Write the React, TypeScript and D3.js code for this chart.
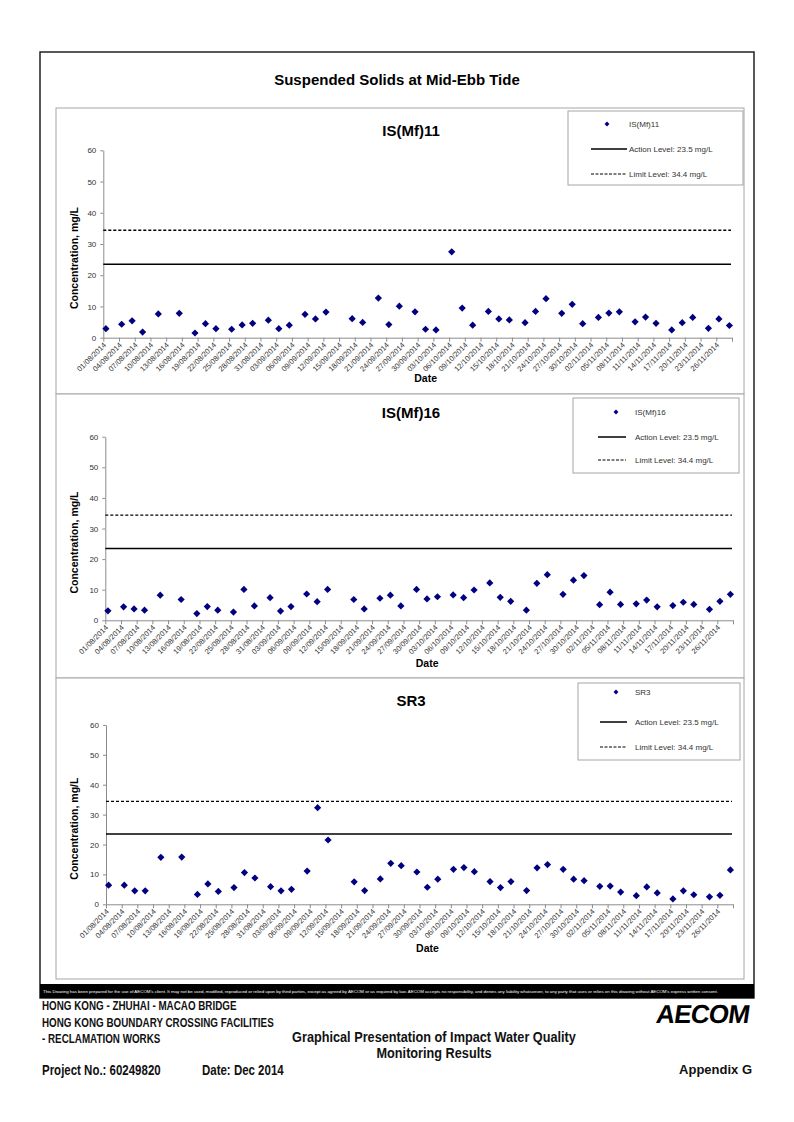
import { useRef, useEffect } from 'react';
import * as d3 from 'd3';

// sampling dates (Mon / Wed / Fri schedule)
const sampleDates = [
  '01/08/2014', '04/08/2014', '06/08/2014', '08/08/2014', '11/08/2014', '15/08/2014',
  '18/08/2014', '20/08/2014', '22/08/2014', '25/08/2014', '27/08/2014', '29/08/2014',
  '01/09/2014', '03/09/2014', '05/09/2014', '08/09/2014', '10/09/2014', '12/09/2014',
  '17/09/2014', '19/09/2014', '22/09/2014', '24/09/2014', '26/09/2014', '29/09/2014',
  '01/10/2014', '03/10/2014', '06/10/2014', '08/10/2014', '10/10/2014', '13/10/2014',
  '15/10/2014', '17/10/2014', '20/10/2014', '22/10/2014', '24/10/2014', '27/10/2014',
  '29/10/2014', '31/10/2014', '03/11/2014', '05/11/2014', '07/11/2014', '10/11/2014',
  '12/11/2014', '14/11/2014', '17/11/2014', '19/11/2014', '21/11/2014', '24/11/2014',
  '26/11/2014', '28/11/2014',
];

const is11Values = [
  2.9, 4.3, 5.4, 1.8, 7.6, 7.8, 1.5, 4.5, 2.9, 2.7, 4.1, 4.6,
  5.6, 2.9, 4.0, 7.5, 6.0, 8.2, 6.1, 4.9, 12.7, 4.2, 10.1, 8.3,
  2.7, 2.5, 27.5, 9.5, 4.0, 8.4, 6.0, 5.7, 4.8, 8.4, 12.5, 7.8, 10.7, 4.5,
  6.5, 7.9, 8.3, 5.1, 6.6, 4.6, 2.5, 4.8, 6.5, 3.0, 6.0, 3.9,
];

const is16Values = [
  3.1, 4.4, 3.7, 3.3, 8.2, 6.8, 2.2, 4.5, 3.3, 2.7, 10.1, 4.7,
  7.4, 3.0, 4.5, 8.6, 6.1, 10.1, 6.8, 3.7, 7.2, 8.2, 4.7, 10.1,
  7.0, 7.7, 8.3, 7.4, 9.9, 12.2, 7.5, 6.2, 3.3, 12.1, 14.9, 8.5, 13.1, 14.6,
  5.1, 9.2, 5.2, 5.4, 6.6, 4.4, 4.8, 5.9, 5.2, 3.6, 6.2, 8.5,
];

const sr3Values = [
  6.4, 6.4, 4.5, 4.5, 15.7, 15.8, 3.3, 6.8, 4.3, 5.6, 10.6, 8.8,
  5.9, 4.5, 5.0, 11.1, 32.3, 21.5, 7.5, 4.6, 8.5, 13.7, 12.9, 10.8,
  5.7, 8.4, 11.7, 12.3, 10.9, 7.6, 5.6, 7.6, 4.6, 12.2, 13.3, 11.7, 8.4, 7.9,
  6.0, 6.1, 4.1, 2.9, 5.8, 3.8, 1.8, 4.5, 3.2, 2.5, 3.0, 11.5,
];

const yTicks = [0, 10, 20, 30, 40, 50, 60];
const axisStart = '01/08/2014';
const axisEnd = '29/11/2014';
const tickStepDays = 3;
const actionLevel = 23.5;
const limitLevel = 34.4;
const actionLabel = 'Action Level: 23.5 mg/L';
const limitLabel = 'Limit Level: 34.4 mg/L';

const FONT = "'Liberation Sans', Arial, sans-serif";
const NAVY = '#000080';
const GRID = '#a6a6a6';

const panels = [
  {
    name: 'IS(Mf)11', values: is11Values,
    box: [56, 108, 744, 394], plot: [103.3, 150.3, 732, 337.7], titleY: 136, dateY: 382,
    legend: { box: [568, 111, 743, 185], dotX: 607, lineX: [591, 627], textX: 629, rows: [124, 149, 174] },
  },
  {
    name: 'IS(Mf)16', values: is16Values,
    box: [56, 394, 744, 678], plot: [105.3, 436.7, 733, 620.3], titleY: 418, dateY: 667,
    legend: { box: [573, 398, 739, 473], dotX: 616, lineX: [598, 626], textX: 635, rows: [412, 437, 460] },
  },
  {
    name: 'SR3', values: sr3Values,
    box: [56, 678, 744, 979], plot: [106, 724.9, 733, 904.3], titleY: 706, dateY: 952,
    legend: { box: [578, 683, 740, 760], dotX: 616, lineX: [600, 627], textX: 635, rows: [692, 722, 747] },
  },
];

const disclaimer =
  "This Drawing has been prepared for the use of AECOM's client. It may not be used, modified, reproduced or relied upon by third parties, except as agreed by AECOM or as required by law. AECOM accepts no responsibility, and denies any liability whatsoever, to any party that uses or relies on this drawing without AECOM's express written consent.";

type Panel = typeof panels[0];

function drawPanel(g: d3.Selection<SVGGElement, unknown, null, undefined>, p: Panel) {
  const parse = d3.timeParse('%d/%m/%Y');
  const fmt = d3.timeFormat('%d/%m/%Y');
  const start = parse(axisStart) as Date;
  const end = parse(axisEnd) as Date;
  const dates = sampleDates.map((s) => parse(s) as Date);

  const [bx0, by0, bx1, by1] = p.box;
  g.append('rect')
    .attr('x', bx0).attr('y', by0)
    .attr('width', bx1 - bx0).attr('height', by1 - by0)
    .attr('fill', '#fff').attr('stroke', GRID);

  const [l, t, r, b] = p.plot;
  const x = d3.scaleTime().domain([start, end]).range([l, r]);
  const y = d3.scaleLinear().domain([0, 60]).range([b, t]);

  // Title
  g.append('text')
    .attr('x', 411).attr('y', p.titleY)
    .attr('text-anchor', 'middle')
    .attr('font-family', FONT).attr('font-weight', 'bold').attr('font-size', 15)
    .text(p.name);

  // Y axis
  const yAxis = g.append('g')
    .attr('transform', `translate(${l},0)`)
    .call(d3.axisLeft(y).tickValues(yTicks).tickSize(3).tickSizeOuter(0).tickPadding(4));
  yAxis.select('.domain').attr('stroke', '#8c8c8c');
  yAxis.selectAll('line').attr('stroke', '#8c8c8c');
  yAxis.selectAll('text').attr('font-size', 8).attr('fill', '#333').attr('font-family', FONT);

  // X axis, tick every 3 days
  const tickDates = d3.timeDay.range(start, d3.timeDay.offset(end, 1), tickStepDays);
  const xAxis = g.append('g')
    .attr('transform', `translate(0,${b})`)
    .call(
      d3.axisBottom(x).tickValues(tickDates).tickSize(4).tickSizeOuter(0)
        .tickFormat((d) => ((d as Date) < end ? fmt(d as Date) : '')) as any,
    );
  xAxis.select('.domain').attr('stroke', '#8c8c8c');
  xAxis.selectAll('line').attr('stroke', '#8c8c8c');
  xAxis.selectAll('text')
    .attr('x', 0).attr('y', 0).attr('dy', '0.35em')
    .attr('transform', 'translate(1,6) rotate(-45)')
    .attr('text-anchor', 'end')
    .attr('font-size', 7.5).attr('fill', '#333').attr('font-family', FONT);

  // Limit & action levels
  g.append('line')
    .attr('x1', l).attr('x2', r - 1)
    .attr('y1', y(limitLevel)).attr('y2', y(limitLevel))
    .attr('stroke', '#000').attr('stroke-width', 1.3).attr('stroke-dasharray', '3,2');
  g.append('line')
    .attr('x1', l).attr('x2', r - 1)
    .attr('y1', y(actionLevel)).attr('y2', y(actionLevel))
    .attr('stroke', '#000').attr('stroke-width', 1.5);

  // Points, centred in the day as in Excel date axis
  g.selectAll('.pt')
    .data(p.values)
    .join('path')
    .attr('class', 'pt')
    .attr('d', d3.symbol(d3.symbolSquare, 26)())
    .attr('transform', (d, i) => `translate(${x(d3.timeHour.offset(dates[i], 12))},${y(d)}) rotate(45)`)
    .attr('fill', NAVY);

  // Axis titles
  g.append('text')
    .attr('x', (l + r) / 2 + 8).attr('y', p.dateY)
    .attr('text-anchor', 'middle')
    .attr('font-family', FONT).attr('font-weight', 'bold').attr('font-size', 10.5)
    .text('Date');
  g.append('text')
    .attr('transform', `translate(78,${(t + b) / 2 + 14}) rotate(-90)`)
    .attr('text-anchor', 'middle')
    .attr('font-family', FONT).attr('font-weight', 'bold').attr('font-size', 10.5)
    .text('Concentration, mg/L');

  // Legend
  const lg = p.legend;
  const [lx0, ly0, lx1, ly1] = lg.box;
  g.append('rect')
    .attr('x', lx0).attr('y', ly0).attr('width', lx1 - lx0).attr('height', ly1 - ly0)
    .attr('fill', '#fff').attr('stroke', GRID);
  g.append('path')
    .attr('d', d3.symbol(d3.symbolSquare, 12)())
    .attr('transform', `translate(${lg.dotX},${lg.rows[0]}) rotate(45)`)
    .attr('fill', NAVY);
  g.append('line')
    .attr('x1', lg.lineX[0]).attr('x2', lg.lineX[1])
    .attr('y1', lg.rows[1]).attr('y2', lg.rows[1])
    .attr('stroke', '#000').attr('stroke-width', 1.5);
  g.append('line')
    .attr('x1', lg.lineX[0]).attr('x2', lg.lineX[1])
    .attr('y1', lg.rows[2]).attr('y2', lg.rows[2])
    .attr('stroke', '#000').attr('stroke-width', 1.2).attr('stroke-dasharray', '3,1.5');
  [p.name, actionLabel, limitLabel].forEach((txt, i) => {
    g.append('text')
      .attr('x', lg.textX).attr('y', lg.rows[i]).attr('dy', '0.35em')
      .attr('font-family', FONT).attr('font-size', 8).attr('fill', '#333')
      .text(txt);
  });
}

export default function App() {
  const svgRef = useRef<SVGSVGElement>(null);

  useEffect(() => {
    if (!svgRef.current) return;
    const svg = d3.select(svgRef.current);
    svg.selectAll('*').remove();

    svg.append('rect').attr('width', 794).attr('height', 1122).attr('fill', '#fff');

    // Outer frame
    svg.append('rect')
      .attr('x', 40).attr('y', 52).attr('width', 714).attr('height', 946)
      .attr('fill', 'none').attr('stroke', '#222').attr('stroke-width', 1.5);

    svg.append('text')
      .attr('x', 397).attr('y', 85)
      .attr('text-anchor', 'middle')
      .attr('font-family', FONT).attr('font-weight', 'bold').attr('font-size', 15)
      .text('Suspended Solids at Mid-Ebb Tide');

    panels.forEach((p) => drawPanel(svg.append('g'), p));

    // Disclaimer band
    svg.append('rect').attr('x', 40).attr('y', 984).attr('width', 714).attr('height', 14).attr('fill', '#000');
    svg.append('text')
      .attr('x', 43).attr('y', 993)
      .attr('font-family', FONT).attr('font-size', 4.3).attr('fill', '#fff')
      .attr('textLength', 675).attr('lengthAdjust', 'spacingAndGlyphs')
      .text(disclaimer);

    // Footer, condensed like Arial Narrow
    const footer = svg.append('g').attr('font-family', FONT).attr('font-weight', 'bold').attr('fill', '#111');
    const narrow = (x: number, y: number, size: number, s: string, anchor = 'start') =>
      footer.append('text')
        .attr('transform', `translate(${x},${y}) scale(0.82,1)`)
        .attr('text-anchor', anchor)
        .attr('font-size', size)
        .text(s);
    const leftLines = ['HONG KONG - ZHUHAI - MACAO BRIDGE', 'HONG KONG BOUNDARY CROSSING FACILITIES', '- RECLAMATION WORKS'];
    leftLines.forEach((s, i) => narrow(42, 1010 + i * 16.5, 12, s));
    narrow(434, 1042, 15.5, 'Graphical Presentation of Impact Water Quality', 'middle');
    narrow(434, 1058, 15.5, 'Monitoring Results', 'middle');
    narrow(42, 1075, 14, 'Project No.: 60249820');
    narrow(202, 1075, 14, 'Date: Dec 2014');
    footer.append('text').attr('x', 752).attr('y', 1074).attr('text-anchor', 'end')
      .attr('font-size', 13).text('Appendix G');

    svg.append('text')
      .attr('transform', 'translate(748,1023) skewX(-8)')
      .attr('text-anchor', 'end')
      .attr('font-family', FONT).attr('font-weight', 900)
      .attr('font-size', 26).attr('letter-spacing', -0.8)
      .text('AECOM');
  }, []);

  return (
    <svg
      ref={svgRef}
      width={794}
      height={1122}
      style={{ position: 'absolute', left: 0, top: 0 }}
    />
  );
}
